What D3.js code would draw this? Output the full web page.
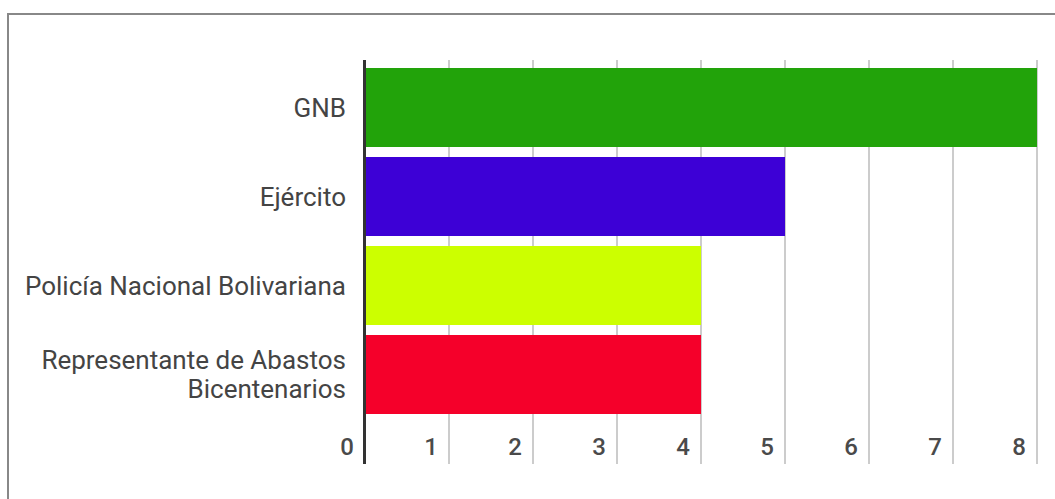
<!DOCTYPE html>
<html><head><meta charset="utf-8">
<script src="https://cdn.jsdelivr.net/npm/d3@7"></script>
<style>html,body{margin:0;padding:0;background:#fff;overflow:hidden}</style>
</head><body>
<svg id="c" width="1055" height="499"></svg>
<script>
const categories = [["GNB"], ["Ejército"], ["Policía Nacional Bolivariana"], ["Representante de Abastos", "Bicentenarios"]];
const values = [8, 5, 4, 4];
const colors = ["#22a30a", "#3d00d6", "#ccff00", "#f5002a"];
const tickValues = [0, 1, 2, 3, 4, 5, 6, 7, 8];

const svg = d3.select("#c");
svg.append("rect").attr("x", 8).attr("y", 14).attr("width", 1200).attr("height", 700)
  .attr("fill", "none").attr("stroke", "#888").attr("stroke-width", 2);

const x = d3.scaleLinear().domain([0, 8]).range([365, 1037]);
const keys = categories.map((c, i) => i);
const y = d3.scaleBand().domain(keys).range([63, 419]).paddingInner(0.1124).paddingOuter(0.0562);
const plotTop = 60, plotBottom = 464;

// gridlines
svg.append("g").selectAll("line").data(tickValues.slice(1)).join("line")
  .attr("x1", d => x(d)).attr("x2", d => x(d)).attr("y1", plotTop).attr("y2", plotBottom)
  .attr("stroke", "#ccc").attr("stroke-width", 2);

// bars
svg.append("g").selectAll("rect").data(values).join("rect")
  .attr("x", x(0)).attr("y", (d, i) => y(i)).attr("width", d => x(d) - x(0)).attr("height", y.bandwidth())
  .attr("fill", (d, i) => colors[i]);

// axis line
svg.append("line").attr("x1", 364.5).attr("x2", 364.5).attr("y1", plotTop).attr("y2", plotBottom)
  .attr("stroke", "#333").attr("stroke-width", 3);

// tick labels
svg.append("g").selectAll("text").data(tickValues).join("text")
  .attr("x", d => x(d) - 11).attr("y", 455)
  .attr("text-anchor", "end").attr("font-family", "Roboto").attr("font-weight", 500)
  .attr("font-size", 24).attr("fill", "#4a4a4a")
  .text(d => d);

// category labels
const lab = svg.append("g").selectAll("text").data(categories).join("text")
  .attr("text-anchor", "end").attr("font-family", "Roboto")
  .attr("font-size", 26).attr("fill", "#444")
  .attr("transform", (d, i) => `translate(346,${y(i) + y.bandwidth() / 2 + 9 - (d.length - 1) * 14.5})`);
lab.selectAll("tspan").data(d => d).join("tspan")
  .attr("x", 0).attr("dy", (d, j) => j === 0 ? 0 : 29).text(d => d);
</script>
</body></html>
